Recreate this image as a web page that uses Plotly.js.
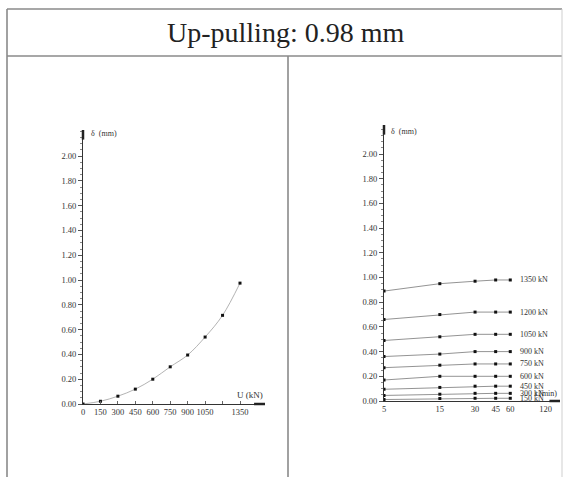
<!DOCTYPE html>
<html>
<head>
<meta charset="utf-8">
<script src="https://cdn.plot.ly/plotly-3.0.1.min.js"></script>
<style>html,body{margin:0;padding:0;background:#fff}#chart{width:567px;height:477px}</style>
</head>
<body>
<div id="chart"></div>
<script>
// ---- Data ----
const titleText = "Up-pulling: 0.98 mm";
// Left panel: load U (kN) vs displacement δ (mm)
const loadU = [0, 150, 300, 450, 600, 750, 900, 1050, 1200, 1350];
const deltaU = [0.00, 0.022, 0.063, 0.12, 0.20, 0.30, 0.395, 0.54, 0.715, 0.975];
const loadTickVals = [0, 150, 300, 450, 600, 750, 900, 1050, 1200, 1350];
const loadTickText = ["0", "150", "300", "450", "600", "750", "900", "1050", "", "1350"];
// Right panel: time (min) vs δ (mm) for each load level
const timeMin = [5, 15, 30, 45, 60];
const timeTickVals = [5, 15, 30, 45, 60, 120];
const timeTickText = ["5", "15", "30", "45", "60", "120"];
const loadLevels = ["1350 kN", "1200 kN", "1050 kN", "900 kN", "750 kN", "600 kN", "450 kN", "300 kN", "150 kN"];
const d1350 = [0.89, 0.95, 0.97, 0.98, 0.98];
const d1200 = [0.66, 0.70, 0.72, 0.72, 0.72];
const d1050 = [0.49, 0.52, 0.54, 0.54, 0.54];
const d900  = [0.36, 0.38, 0.40, 0.40, 0.40];
const d750  = [0.27, 0.29, 0.30, 0.30, 0.30];
const d600  = [0.17, 0.20, 0.20, 0.20, 0.20];
const d450  = [0.095, 0.11, 0.12, 0.12, 0.12];
const d300  = [0.045, 0.055, 0.062, 0.062, 0.062];
const d150  = [0.012, 0.02, 0.022, 0.022, 0.022];
const timeSeries = [d1350, d1200, d1050, d900, d750, d600, d450, d300, d150];

// ---- Styling helpers ----
const W = 567, H = 477;
const px = v => v / W;
const py = v => 1 - v / H;
const serif = "Liberation Serif, Times New Roman, serif";
const tickFont = {family: serif, size: 8.5, color: "#333"};

const traces = [];
traces.push({
  x: loadU, y: deltaU, xaxis: "x", yaxis: "y", type: "scatter", mode: "lines+markers",
  line: {color: "#a0a0a0", width: 0.8, shape: "spline"},
  marker: {color: "#111", size: 3, symbol: "square"},
  showlegend: false
});
timeSeries.forEach((s, i) => {
  traces.push({
    x: timeMin, y: s, xaxis: "x2", yaxis: "y2", type: "scatter", mode: "lines+markers",
    line: {color: "#777", width: 0.8},
    marker: {color: "#111", size: 3, symbol: "square"},
    name: loadLevels[i], showlegend: false
  });
});

const yAxisCommon = {
  showline: true, linecolor: "#333", linewidth: 1, showgrid: false, zeroline: false,
  ticks: "outside", ticklen: 4, tickcolor: "#555", tickwidth: 1,
  tickvals: [0, 0.2, 0.4, 0.6, 0.8, 1.0, 1.2, 1.4, 1.6, 1.8, 2.0],
  tickformat: ".2f", tickfont: tickFont,
  minor: {ticks: "outside", dtick: 0.05, ticklen: 2, tickcolor: "#888"},
  fixedrange: true
};

const annotations = [
  {text: titleText, xref: "paper", yref: "paper", x: px(285), y: py(33), showarrow: false,
   font: {family: serif, size: 28, color: "#222"}, xanchor: "center", yanchor: "middle"},
  {text: "δ  (mm)", xref: "paper", yref: "paper", x: px(89), y: py(133), showarrow: false,
   font: {family: serif, size: 8, color: "#333"}, xanchor: "left", yanchor: "middle"},
  {text: "U (kN)", xref: "paper", yref: "paper", x: px(250), y: py(395), showarrow: false,
   font: {family: serif, size: 9, color: "#333"}, xanchor: "center", yanchor: "middle"},
  {text: "δ  (mm)", xref: "paper", yref: "paper", x: px(389), y: py(131), showarrow: false,
   font: {family: serif, size: 8, color: "#333"}, xanchor: "left", yanchor: "middle"},
  {text: "t (min)", xref: "paper", yref: "paper", x: px(546), y: py(393), showarrow: false,
   font: {family: serif, size: 8, color: "#333"}, xanchor: "center", yanchor: "middle"}
];
loadLevels.forEach((lab, i) => {
  const s = timeSeries[i];
  annotations.push({text: lab, xref: "paper", yref: "y2", x: px(518), y: s[s.length - 1],
    showarrow: false, xanchor: "left", yanchor: "middle",
    font: {family: serif, size: 8, color: "#333"}});
});

const frame = {color: "#8a8a8a", width: 1.6};
const shapes = [
  {type: "line", xref: "paper", yref: "paper", x0: px(7), x1: px(562), y0: py(9), y1: py(9), line: frame},
  {type: "line", xref: "paper", yref: "paper", x0: px(7), x1: px(562), y0: py(56), y1: py(56), line: frame},
  {type: "line", xref: "paper", yref: "paper", x0: px(7), x1: px(7), y0: py(9), y1: 0, line: frame},
  {type: "line", xref: "paper", yref: "paper", x0: px(562), x1: px(562), y0: py(9), y1: 0, line: {color: "#cfcfcf", width: 1}},
  {type: "line", xref: "paper", yref: "paper", x0: px(288), x1: px(288), y0: py(56), y1: 0, line: frame},
  // axis arrow heads (thick ends)
  {type: "line", xref: "x domain", yref: "y domain", x0: 0, x1: 0, y0: 0.965, y1: 1, line: {color: "#222", width: 2.5}},
  {type: "line", xref: "x domain", yref: "y domain", x0: 0.94, x1: 1, y0: 0, y1: 0, line: {color: "#222", width: 2.5}},
  {type: "line", xref: "x2 domain", yref: "y2 domain", x0: 0, x1: 0, y0: 0.965, y1: 1, line: {color: "#222", width: 2.5}},
  {type: "line", xref: "x2 domain", yref: "y2 domain", x0: 0.94, x1: 1, y0: 0, y1: 0, line: {color: "#222", width: 2.5}}
];

const layout = {
  width: W, height: H, margin: {l: 0, r: 0, t: 0, b: 0},
  paper_bgcolor: "#fff", plot_bgcolor: "rgba(0,0,0,0)", showlegend: false,
  xaxis: {
    domain: [px(83), px(265)], range: [0, 1565], anchor: "y",
    showline: true, linecolor: "#333", linewidth: 1, showgrid: false, zeroline: false,
    tickvals: loadTickVals, ticktext: loadTickText, ticks: "inside", ticklen: 3, tickcolor: "#666",
    tickfont: tickFont, tickangle: 0, fixedrange: true
  },
  yaxis: Object.assign({}, yAxisCommon, {domain: [py(404), py(130)], range: [0, 2.21], anchor: "x"}),
  xaxis2: {
    type: "log", domain: [px(384), px(560)], range: [Math.log10(5), 2.203], anchor: "y2",
    showline: true, linecolor: "#333", linewidth: 1, showgrid: false, zeroline: false,
    tickvals: timeTickVals, ticktext: timeTickText, ticks: "", tickfont: tickFont, fixedrange: true
  },
  yaxis2: Object.assign({}, yAxisCommon, {domain: [py(401), py(125)], range: [0, 2.235], anchor: "x2"}),
  annotations: annotations,
  shapes: shapes
};

Plotly.newPlot("chart", traces, layout, {displayModeBar: false, staticPlot: true});
</script>
</body>
</html>
